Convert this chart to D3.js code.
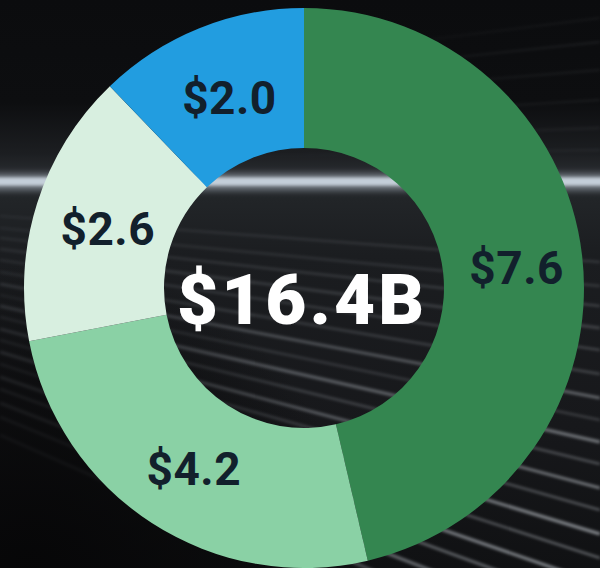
<!DOCTYPE html>
<html>
<head>
<meta charset="utf-8">
<script src="https://cdn.jsdelivr.net/npm/d3@7"></script>
<style>
  html, body { margin: 0; padding: 0; background: #0b0c0e; }
  svg { display: block; }
</style>
</head>
<body>
<svg id="chart" width="600" height="568"></svg>
<script>
// Segment values, in $ billions, clockwise from 12 o'clock
const categories = ["A", "B", "C", "D"];
const values = [7.6, 4.2, 2.6, 2.0];
const labels = ["$7.6", "$4.2", "$2.6", "$2.0"];
const colors = ["#348650", "#8ad1a5", "#d8efe0", "#229de0"];
const totalLabel = "$16.4B";

// Light streaks of the backdrop: where each streak meets the right edge, its strength and width
const streakEnds = [18, 42, 70, 100, 128, 150, 262, 286, 306, 328, 350, 374, 398, 420, 442, 464, 488, 510, 534, 558, 584, 608, 636, 664, 700];
const streakAlpha = [0.07, 0.10, 0.07, 0.09, 0.07, 0.08, 0.22, 0.18, 0.30, 0.24, 0.34, 0.28, 0.45, 0.30, 0.50, 0.36, 0.55, 0.40, 0.60, 0.45, 0.62, 0.50, 0.55, 0.45, 0.40];
const streakWidth = [1.5, 1.5, 2, 1.5, 2, 1.5, 1.5, 2, 1.5, 2.5, 1.5, 2, 2.5, 1.5, 3, 2, 2.5, 2, 3, 2, 3, 2.5, 3, 2.5, 3];

const W = 600, H = 568;
const cx = 304, cy = 288;
const outerR = 280, innerR = 140;

const svg = d3.select("#chart");
const defs = svg.append("defs");

// --- backdrop -------------------------------------------------------------
const bg = defs.append("linearGradient").attr("id", "bgGrad")
  .attr("x1", 0).attr("y1", 0).attr("x2", 0).attr("y2", 1);
[[0, "#0b0c0e"], [0.18, "#0d0e10"], [0.27, "#1c1e21"], [0.31, "#2a2d31"], [0.35, "#222528"],
 [0.45, "#1b1d20"], [0.75, "#17181b"], [1, "#101113"]]
  .forEach(([o, c]) => bg.append("stop").attr("offset", o).attr("stop-color", c));

const dark = defs.append("radialGradient").attr("id", "cornerDark")
  .attr("cx", 0.05).attr("cy", 1).attr("r", 0.55);
dark.append("stop").attr("offset", 0).attr("stop-color", "#060607").attr("stop-opacity", 0.95);
dark.append("stop").attr("offset", 0.6).attr("stop-color", "#060607").attr("stop-opacity", 0.6);
dark.append("stop").attr("offset", 1).attr("stop-color", "#060607").attr("stop-opacity", 0);

const fade = defs.append("linearGradient").attr("id", "streakFade")
  .attr("gradientUnits", "userSpaceOnUse")
  .attr("x1", 0).attr("y1", 0).attr("x2", W).attr("y2", 0);
fade.append("stop").attr("offset", 0).attr("stop-color", "#aab1ba").attr("stop-opacity", 0.5);
fade.append("stop").attr("offset", 0.45).attr("stop-color", "#c0c7cf").attr("stop-opacity", 0.8);
fade.append("stop").attr("offset", 1).attr("stop-color", "#d8dee5").attr("stop-opacity", 1);

// upper streaks only show towards the right
const fadeTop = defs.append("linearGradient").attr("id", "streakFadeTop")
  .attr("gradientUnits", "userSpaceOnUse")
  .attr("x1", 0).attr("y1", 0).attr("x2", W).attr("y2", 0);
fadeTop.append("stop").attr("offset", 0.3).attr("stop-color", "#c0c7cf").attr("stop-opacity", 0);
fadeTop.append("stop").attr("offset", 1).attr("stop-color", "#d8dee5").attr("stop-opacity", 1);

defs.append("filter").attr("id", "soft").attr("x", -0.1).attr("y", -0.5).attr("width", 1.2).attr("height", 2)
  .append("feGaussianBlur").attr("stdDeviation", 1.6);
defs.append("filter").attr("id", "glow").attr("x", -0.1).attr("y", -2).attr("width", 1.2).attr("height", 5)
  .append("feGaussianBlur").attr("stdDeviation", 3.5);

svg.append("rect").attr("width", W).attr("height", H).attr("fill", "url(#bgGrad)");

// streaks fan out from a point far off to the left
const vx = -600, vy = 170;
const streaks = svg.append("g").attr("filter", "url(#soft)");
streakEnds.forEach((yR, i) => {
  const yAt = x => vy + (yR - vy) * (x - vx) / (W - vx);
  streaks.append("path")
    .attr("d", d3.line()([[0, yAt(0)], [W, yAt(W)]]))
    .attr("fill", "none")
    .attr("stroke", yR < vy ? "url(#streakFadeTop)" : "url(#streakFade)")
    .attr("stroke-width", streakWidth[i])
    .attr("stroke-opacity", streakAlpha[i]);
});

// bright horizontal band of light
svg.append("rect").attr("x", -20).attr("y", 174).attr("width", W + 40).attr("height", 16)
  .attr("fill", "#b9c6d2").attr("opacity", 0.55).attr("filter", "url(#glow)");
svg.append("rect").attr("x", -20).attr("y", 177.5).attr("width", W + 40).attr("height", 8)
  .attr("fill", "#cdd8e2").attr("opacity", 0.9).attr("filter", "url(#soft)");

svg.append("rect").attr("width", W).attr("height", H).attr("fill", "url(#cornerDark)");

// --- donut ----------------------------------------------------------------
const pie = d3.pie().sort(null).value(d => d);
const arcs = pie(values);
const arc = d3.arc().innerRadius(innerR).outerRadius(outerR);

const g = svg.append("g").attr("transform", `translate(${cx},${cy})`);

g.selectAll("path.slice")
  .data(arcs)
  .join("path")
  .attr("class", "slice")
  .attr("d", arc)
  .attr("fill", (d, i) => colors[i]);

g.selectAll("text.value")
  .data(arcs)
  .join("text")
  .attr("class", "value")
  .attr("transform", d => {
    const [x, y] = arc.centroid(d);
    return `translate(${x + 4},${y + 4})`;
  })
  .attr("text-anchor", "middle")
  .attr("dy", "0.355em")
  .attr("font-family", "Roboto, 'DejaVu Sans', sans-serif")
  .attr("font-weight", 700)
  .attr("font-size", 46)
  .attr("letter-spacing", 0.5)
  .attr("fill", "#12202c")
  .text((d, i) => labels[i]);

g.append("text")
  .attr("x", -2)
  .attr("y", 11)
  .attr("text-anchor", "middle")
  .attr("dy", "0.355em")
  .attr("font-family", "Roboto, 'DejaVu Sans', sans-serif")
  .attr("font-weight", 900)
  .attr("font-size", 71)
  .attr("letter-spacing", 3)
  .attr("fill", "#ffffff")
  .text(totalLabel);
</script>
</body>
</html>
